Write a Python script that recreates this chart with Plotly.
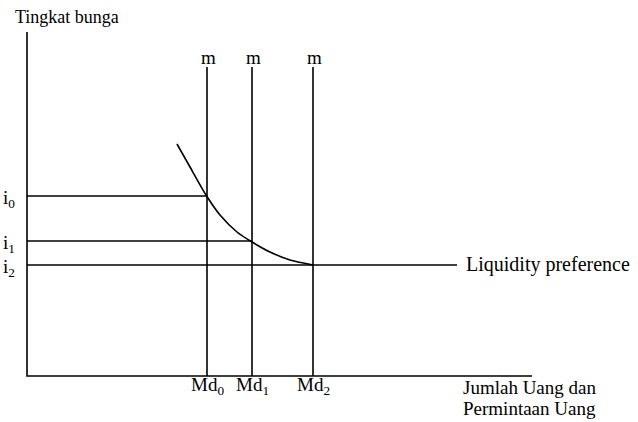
import plotly.graph_objects as go

# Data (origin at the axes' intersection)
md_labels = ["Md<sub>0</sub>", "Md<sub>1</sub>", "Md<sub>2</sub>"]
md_values = [180, 225, 286]
i_labels = ["i<sub>0</sub>", "i<sub>1</sub>", "i<sub>2</sub>"]
i_values = [180, 135, 111]
m_top = 309
curve_x = [150, 163, 179, 193, 210, 225, 243, 263, 286]
curve_y = [232, 209, 181, 161, 144, 134, 124, 116, 111]
lp_end = 430
x_axis_end = 505
y_axis_top = 344

FONT = "Liberation Serif, Times New Roman, serif"
FS = 19
fig = go.Figure()
line = dict(color="black", width=1.6)

# axes
fig.add_trace(go.Scatter(x=[0, 0, x_axis_end], y=[y_axis_top, 0, 0], mode="lines", line=line))
# vertical money supply lines
for mv in md_values:
    fig.add_trace(go.Scatter(x=[mv, mv], y=[0, m_top], mode="lines", line=line))
# horizontal interest lines
for k, (mv, iv) in enumerate(zip(md_values, i_values)):
    xe = lp_end if k == 2 else mv
    fig.add_trace(go.Scatter(x=[0, xe], y=[iv, iv], mode="lines", line=line))
# liquidity preference curve
fig.add_trace(go.Scatter(x=curve_x, y=curve_y, mode="lines",
                         line=dict(color="black", width=1.6, shape="spline", smoothing=0.6)))

ann = []
def t(x, y, text, xa="center", ya="middle", size=FS):
    ann.append(dict(x=x, y=y, text=text, showarrow=False, xanchor=xa, yanchor=ya,
                    font=dict(family=FONT, size=size, color="black")))

t(-14, 359, "Tingkat bunga", xa="left", size=18)
for mv, lab in zip(md_values, md_labels):
    t(mv + 1, m_top + 10, "m")
    t(mv, -10, lab)
for iv, lab in zip(i_values, i_labels):
    t(-26, iv - 3, lab, xa="left")
t(lp_end + 7, i_values[2] + 1, "Liquidity preference", xa="left", size=20)
t(571, -11, "Jumlah Uang dan", xa="right")
t(571, -32, "Permintaan Uang", xa="right")

fig.update_layout(
    width=638, height=422, margin=dict(l=0, r=0, t=0, b=0),
    paper_bgcolor="white", plot_bgcolor="white", showlegend=False,
    annotations=ann,
    xaxis=dict(range=[-27, 611], visible=False, fixedrange=True),
    yaxis=dict(range=[-46, 376], visible=False, fixedrange=True),
)
fig.write_html("out.html")
